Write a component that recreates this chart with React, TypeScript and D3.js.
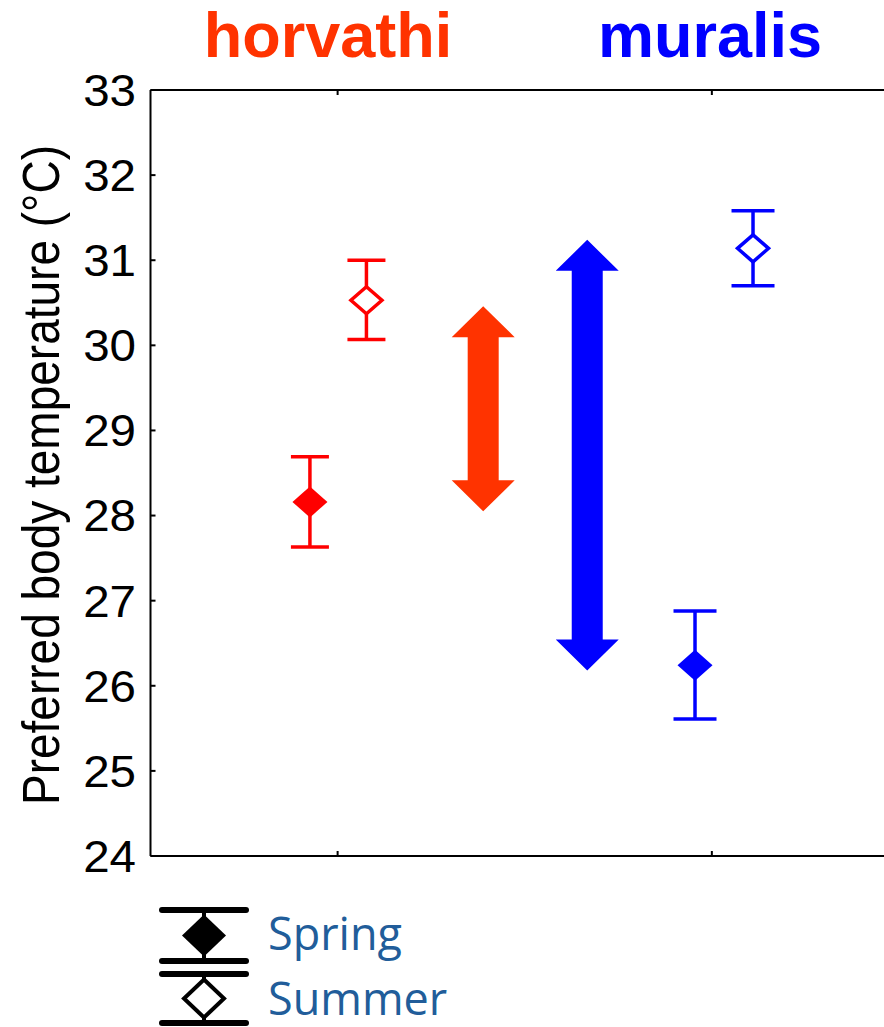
import React from 'react';
import * as d3 from 'd3';

// species, seasons and values
const species = ['horvathi', 'muralis'];
const speciesColor = ['#ff3300', '#0000ff'];
const markerColor = ['#ff0000', '#0000ff'];
const seasons = ['Spring', 'Summer'];

// mean and error bar ends, per species: [spring, summer]
const horvathiMean = [28.16, 30.53];
const horvathiUpper = [28.69, 31.0];
const horvathiLower = [27.63, 30.07];
const muralisMean = [26.24, 31.14];
const muralisUpper = [26.88, 31.58];
const muralisLower = [25.61, 30.7];

// offset from the species tick on the category axis (0 = horvathi, 1 = muralis)
const horvathiX = [-0.074, 0.077];
const muralisX = [-0.045, 0.11];

// seasonal shift arrows
const arrowX = [0.389, 0.667];
const arrowFrom = [28.05, 26.18];
const arrowTo = [30.46, 31.24];

const yTicks = [24, 25, 26, 27, 28, 29, 30, 31, 32, 33];

const W = 884;
const H = 1027;

const means = [horvathiMean, muralisMean];
const uppers = [horvathiUpper, muralisUpper];
const lowers = [horvathiLower, muralisLower];
const xs = [horvathiX, muralisX];
const capW = [38, 43];

function diamond(cx: number, cy: number, w: number, h: number) {
  return `M${cx},${cy - h}L${cx + w},${cy}L${cx},${cy + h}L${cx - w},${cy}Z`;
}

function arrow(x: number, yTop: number, yBot: number, shaft: number, head: number, headL: number) {
  const s = shaft / 2, h = head / 2;
  return `M${x},${yTop}L${x + h},${yTop + headL}L${x + s},${yTop + headL}L${x + s},${yBot - headL}` +
    `L${x + h},${yBot - headL}L${x},${yBot}L${x - h},${yBot - headL}L${x - s},${yBot - headL}` +
    `L${x - s},${yTop + headL}L${x - h},${yTop + headL}Z`;
}

export default function App() {
  const x = d3.scaleLinear().domain([-0.5, 1.46]).range([150.5, 884]);
  const y = d3.scaleLinear().domain([24, 33]).range([856, 90]);
  const axisFont = '"Liberation Sans", Arial, sans-serif';

  return (
    <svg width={W} height={H} style={{ position: 'absolute', left: 0, top: 0, background: '#fff' }}>
      {/* species titles */}
      {species.map((s, i) => (
        <text key={s} x={[328, 710][i]} y={57} textAnchor="middle" fontFamily={axisFont}
          fontWeight="bold" fontSize={63} fill={speciesColor[i]}>{s}</text>
      ))}

      {/* frame */}
      <g stroke="#000" strokeWidth={2} fill="none">
        <line x1={x(-0.5)} x2={W} y1={y(33)} y2={y(33)} />
        <line x1={x(-0.5)} x2={W} y1={y(24)} y2={y(24)} />
        <line x1={x(-0.5)} x2={x(-0.5)} y1={y(33)} y2={y(24)} />
        {yTicks.map(t => <line key={t} x1={x(-0.5)} x2={x(-0.5) + 5} y1={y(t)} y2={y(t)} />)}
        {[0, 1].map(t => (
          <g key={t}>
            <line x1={x(t)} x2={x(t)} y1={y(33)} y2={y(33) + 5} />
            <line x1={x(t)} x2={x(t)} y1={y(24)} y2={y(24) - 5} />
          </g>
        ))}
      </g>

      {/* y tick labels */}
      {yTicks.map(t => (
        <text key={t} transform={`translate(136,${y(t)}) scale(1.08,1)`} textAnchor="end" dy="0.36em"
          fontFamily={axisFont} fontSize={44} fill="#000">{t}</text>
      ))}

      {/* y title */}
      <text transform={`translate(59,475) scale(1.12,1) rotate(-90)`} textAnchor="middle"
        fontFamily={axisFont} fontSize={46} fill="#000">Preferred body temperature (°C)</text>

      {/* arrows */}
      {arrowX.map((ax, i) => (
        <path key={i} d={arrow(x(ax), y(arrowTo[i]), y(arrowFrom[i]), 31, 63, 31)} fill={speciesColor[i]} />
      ))}

      {/* error bars + means */}
      {species.map((s, i) => seasons.map((season, j) => {
        const cx = x(i + xs[i][j]);
        const col = markerColor[i];
        const cw = capW[i] / 2;
        return (
          <g key={s + season} stroke={col} strokeWidth={3.5}>
            <line x1={cx} x2={cx} y1={y(uppers[i][j])} y2={y(lowers[i][j])} />
            <line x1={cx - cw} x2={cx + cw} y1={y(uppers[i][j])} y2={y(uppers[i][j])} />
            <line x1={cx - cw} x2={cx + cw} y1={y(lowers[i][j])} y2={y(lowers[i][j])} />
            {j === 0
              ? <path d={diamond(cx, y(means[i][j]), 17.5, 15.5)} fill={col} stroke="none" />
              : <path d={diamond(cx, y(means[i][j]), 15.5, 13.5)} fill="#fff" />}
          </g>
        );
      }))}

      {/* legend */}
      {seasons.map((season, j) => {
        const top = [910, 974][j];
        const bot = [961, 1023][j];
        const cy = (top + bot) / 2;
        return (
          <g key={season}>
            <g stroke="#000" strokeWidth={6} strokeLinecap="round">
              <line x1={162} x2={246} y1={top} y2={top} />
              <line x1={162} x2={246} y1={bot} y2={bot} />
            </g>
            <line x1={204} x2={204} y1={top} y2={bot} stroke="#000" strokeWidth={4} />
            {j === 0
              ? <path d={diamond(204, cy, 22, 21)} fill="#000" />
              : <path d={diamond(204, cy, 20, 19)} fill="#fff" stroke="#000" strokeWidth={4} />}
            <text x={268} y={[950, 1015][j]} fontFamily='"Open Sans", "Noto Sans", sans-serif'
              fontSize={45} fill="#215d9a">{season}</text>
          </g>
        );
      })}
    </svg>
  );
}
